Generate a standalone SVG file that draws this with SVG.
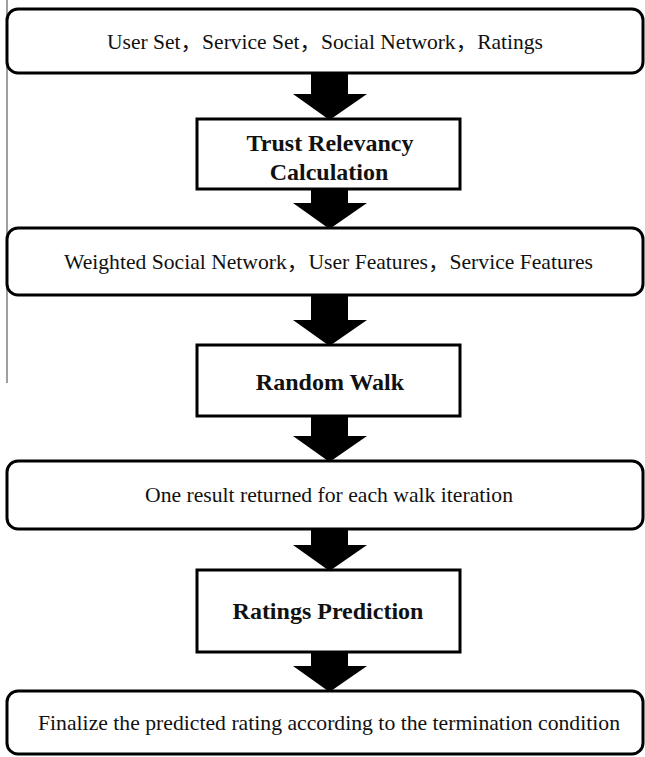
<svg xmlns="http://www.w3.org/2000/svg" width="645" height="757" viewBox="0 0 645 757">
  <style>
    .data { fill: #fff; stroke: #000; stroke-width: 3; }
    .step { fill: #fff; stroke: #000; stroke-width: 3; }
    .txt { font-family: "Liberation Serif", "Times New Roman", "DejaVu Serif", serif; font-size: 21px; fill: #111; }
    .cjk { font-family: "Noto Sans CJK SC", sans-serif; }
    .bold { font-family: "Liberation Serif", "Times New Roman", "DejaVu Serif", serif; font-size: 24px; font-weight: bold; fill: #111; text-anchor: middle; }
    .arrow { fill: #000; }
  </style>
  <rect width="645" height="757" fill="#fff"/>

  <!-- left margin rule -->
  <line x1="7" y1="0" x2="7" y2="383" stroke="#888" stroke-width="1.6"/>

  <!-- block arrows between stages -->
  <g id="connectors">
    <path class="arrow" d="M311,73 H348 V94 H367 L329.5,120 L293,94 H311 Z"/>
    <path class="arrow" d="M311,189 H348 V203 H367 L329.5,229 L293,203 H311 Z"/>
    <path class="arrow" d="M311,295 H348 V320 H367 L329.5,346 L293,320 H311 Z"/>
    <path class="arrow" d="M311,416 H348 V436 H367 L329.5,462 L293,436 H311 Z"/>
    <path class="arrow" d="M311,529 H348 V545 H367 L329.5,571 L293,545 H311 Z"/>
    <path class="arrow" d="M311,652 H348 V666 H367 L329.5,692 L293,666 H311 Z"/>
  </g>

  <g id="inputs">
    <rect class="data" x="7" y="9" width="636" height="64" rx="11"/>
    <text class="txt" x="107" y="49" textLength="436" lengthAdjust="spacingAndGlyphs">User Set<tspan class="cjk">，</tspan>Service Set<tspan class="cjk">，</tspan>Social Network<tspan class="cjk">，</tspan>Ratings</text>
  </g>

  <g id="trust-relevancy">
    <rect class="step" x="197" y="119" width="263" height="70"/>
    <text class="bold" x="330" y="151">Trust Relevancy</text>
    <text class="bold" x="329" y="180">Calculation</text>
  </g>

  <g id="features">
    <rect class="data" x="7" y="228" width="636" height="67" rx="11"/>
    <text class="txt" x="64" y="269" textLength="529" lengthAdjust="spacingAndGlyphs">Weighted Social Network<tspan class="cjk">，</tspan>User Features<tspan class="cjk">，</tspan>Service Features</text>
  </g>

  <g id="random-walk">
    <rect class="step" x="197" y="345" width="263" height="71"/>
    <text class="bold" x="330" y="390">Random Walk</text>
  </g>

  <g id="walk-results">
    <rect class="data" x="7" y="461" width="636" height="68" rx="11"/>
    <text class="txt" x="145" y="502" textLength="368" lengthAdjust="spacingAndGlyphs">One result returned for each walk iteration</text>
  </g>

  <g id="ratings-prediction">
    <rect class="step" x="197" y="570" width="263" height="82"/>
    <text class="bold" x="328" y="619">Ratings Prediction</text>
  </g>

  <g id="final-rating">
    <rect class="data" x="7" y="691" width="636" height="63" rx="11"/>
    <text class="txt" x="38" y="730" textLength="582" lengthAdjust="spacingAndGlyphs">Finalize the predicted rating according to the termination condition</text>
  </g>
</svg>
